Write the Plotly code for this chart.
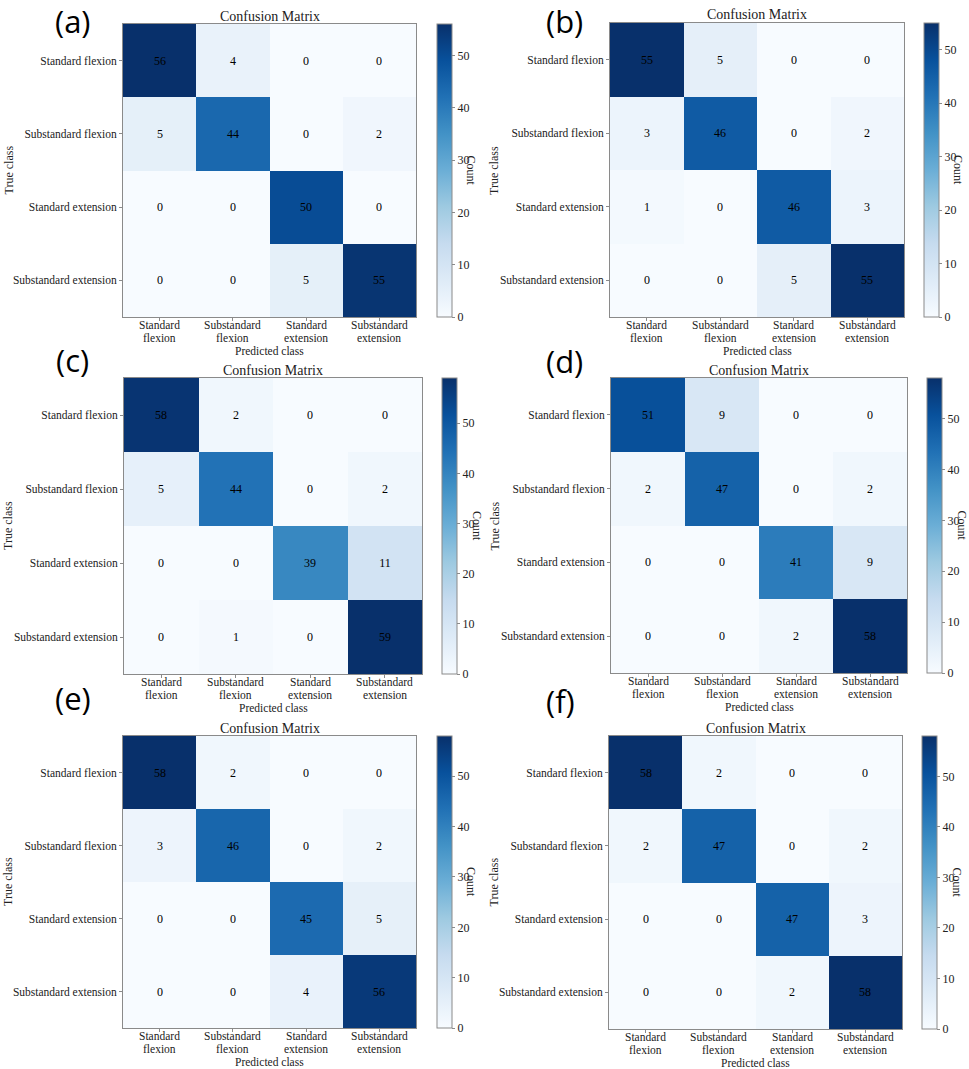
import plotly.graph_objects as go

W, H = 969, 1069

classes = ["Standard flexion", "Substandard flexion", "Standard extension", "Substandard extension"]
x_tick_line1 = ["Standard", "Substandard", "Standard", "Substandard"]
x_tick_line2 = ["flexion", "flexion", "extension", "extension"]
panel_labels = ["(a)", "(b)", "(c)", "(d)", "(e)", "(f)"]

cm_a = [[56, 4, 0, 0], [5, 44, 0, 2], [0, 0, 50, 0], [0, 0, 5, 55]]
cm_b = [[55, 5, 0, 0], [3, 46, 0, 2], [1, 0, 46, 3], [0, 0, 5, 55]]
cm_c = [[58, 2, 0, 0], [5, 44, 0, 2], [0, 0, 39, 11], [0, 1, 0, 59]]
cm_d = [[51, 9, 0, 0], [2, 47, 0, 2], [0, 0, 41, 9], [0, 0, 2, 58]]
cm_e = [[58, 2, 0, 0], [3, 46, 0, 2], [0, 0, 45, 5], [0, 0, 4, 56]]
cm_f = [[58, 2, 0, 0], [2, 47, 0, 2], [0, 0, 47, 3], [0, 0, 2, 58]]
matrices = [cm_a, cm_b, cm_c, cm_d, cm_e, cm_f]

blues = ['rgb(247,251,255)', 'rgb(222,235,247)', 'rgb(198,219,239)', 'rgb(158,202,225)',
         'rgb(107,174,214)', 'rgb(66,146,198)', 'rgb(33,113,181)', 'rgb(8,81,156)', 'rgb(8,48,107)']
colorscale = [[i / (len(blues) - 1), c] for i, c in enumerate(blues)]

# layout geometry in pixels
panels = [
    dict(hx=(123, 416), hy=(24, 317), cbx=437, cnt=471, tc=8, lab=(73, 21)),
    dict(hx=(610, 904), hy=(23, 317), cbx=924, cnt=958, tc=494, lab=(564, 21)),
    dict(hx=(124, 422), hy=(378, 674), cbx=442, cnt=477, tc=8, lab=(72, 360)),
    dict(hx=(611, 907), hy=(378, 673), cbx=927, cnt=962, tc=494, lab=(564, 361)),
    dict(hx=(123, 416), hy=(736, 1028), cbx=437, cnt=471, tc=8, lab=(73, 698)),
    dict(hx=(609, 902), hy=(736, 1029), cbx=922, cnt=957, tc=493, lab=(560, 701)),
]

SERIF = "Liberation Serif, Times New Roman, serif"
GRAY = "#8a8a8a"
TXT = "#222"
FS = 11.5

def px_x(v):
    return v / W

def px_y(v):
    return 1 - v / H

fig = go.Figure()
annotations = []
layout = {}

for i, (cm, p) in enumerate(zip(matrices, panels)):
    n = "" if i == 0 else str(i + 1)
    zmax = max(max(r) for r in cm)
    x0, x1 = p["hx"]
    y0, y1 = p["hy"]
    fig.add_trace(go.Heatmap(
        z=cm, x=classes, y=classes,
        xaxis="x" + n, yaxis="y" + n,
        colorscale=colorscale, zmin=0, zmax=zmax,
        texttemplate="%{z}", textfont=dict(family=SERIF, size=12, color="black"),
        showscale=True,
        colorbar=dict(
            x=px_x(p["cbx"]), xanchor="left",
            y=px_y((y0 + y1) / 2), yanchor="middle",
            len=(y1 - y0) / H, lenmode="fraction",
            thickness=15, thicknessmode="pixels",
            xpad=0, ypad=0,
            outlinecolor=GRAY, outlinewidth=1,
            ticks="outside", ticklen=3, tickcolor=GRAY,
            tick0=0, dtick=10,
            tickfont=dict(family=SERIF, size=12, color=TXT),
        ),
    ))
    layout["xaxis" + n] = dict(
        domain=[px_x(x0), px_x(x1)], anchor="y" + n,
        tickmode="array", tickvals=classes, showticklabels=False,
        ticks="outside", ticklen=3, tickcolor=GRAY,
        showline=True, mirror=True, linecolor=GRAY, linewidth=1,
        showgrid=False, zeroline=False,
    )
    layout["yaxis" + n] = dict(
        domain=[px_y(y1), px_y(y0)], anchor="x" + n,
        autorange="reversed",
        ticks="outside", ticklen=3, tickcolor=GRAY,
        showline=True, mirror=True, linecolor=GRAY, linewidth=1,
        tickfont=dict(family=SERIF, size=FS, color=TXT),
        showgrid=False, zeroline=False,
    )
    cx = (x0 + x1) / 2
    cy = (y0 + y1) / 2
    for j, c in enumerate(classes):
        for line, dy in ((x_tick_line1[j], 8), (x_tick_line2[j], 21)):
            annotations.append(dict(
                text=line, x=c, xref="x" + n, y=px_y(y1 + dy), yref="paper",
                xanchor="center", yanchor="middle", showarrow=False,
                font=dict(family=SERIF, size=FS, color=TXT)))
    annotations += [
        dict(text="Confusion Matrix", x=px_x(cx), y=px_y(y0 - 8), xref="paper", yref="paper",
             xanchor="center", yanchor="middle", showarrow=False,
             font=dict(family=SERIF, size=14, color=TXT)),
        dict(text="Predicted class", x=px_x(cx), y=px_y(y1 + 34), xref="paper", yref="paper",
             xanchor="center", yanchor="middle", showarrow=False,
             font=dict(family=SERIF, size=FS, color=TXT)),
        dict(text="True class", x=px_x(p["tc"]), y=px_y(cy), xref="paper", yref="paper",
             xanchor="center", yanchor="middle", showarrow=False, textangle=-90,
             font=dict(family=SERIF, size=12, color=TXT)),
        dict(text="Count", x=px_x(p["cnt"]), y=px_y(cy), xref="paper", yref="paper",
             xanchor="center", yanchor="middle", showarrow=False, textangle=90,
             font=dict(family=SERIF, size=12, color=TXT)),
        dict(text=panel_labels[i], x=px_x(p["lab"][0]), y=px_y(p["lab"][1]), xref="paper", yref="paper",
             xanchor="center", yanchor="middle", showarrow=False,
             font=dict(family="Open Sans, Noto Sans, sans-serif", size=31, color="black")),
    ]

fig.update_layout(
    width=W, height=H,
    margin=dict(l=0, r=0, t=0, b=0),
    paper_bgcolor="white", plot_bgcolor="white",
    annotations=annotations,
    **layout,
)

fig.write_html("out.html", config={"displayModeBar": False},
               post_script="document.body.style.margin='0';document.body.style.padding='0';")
